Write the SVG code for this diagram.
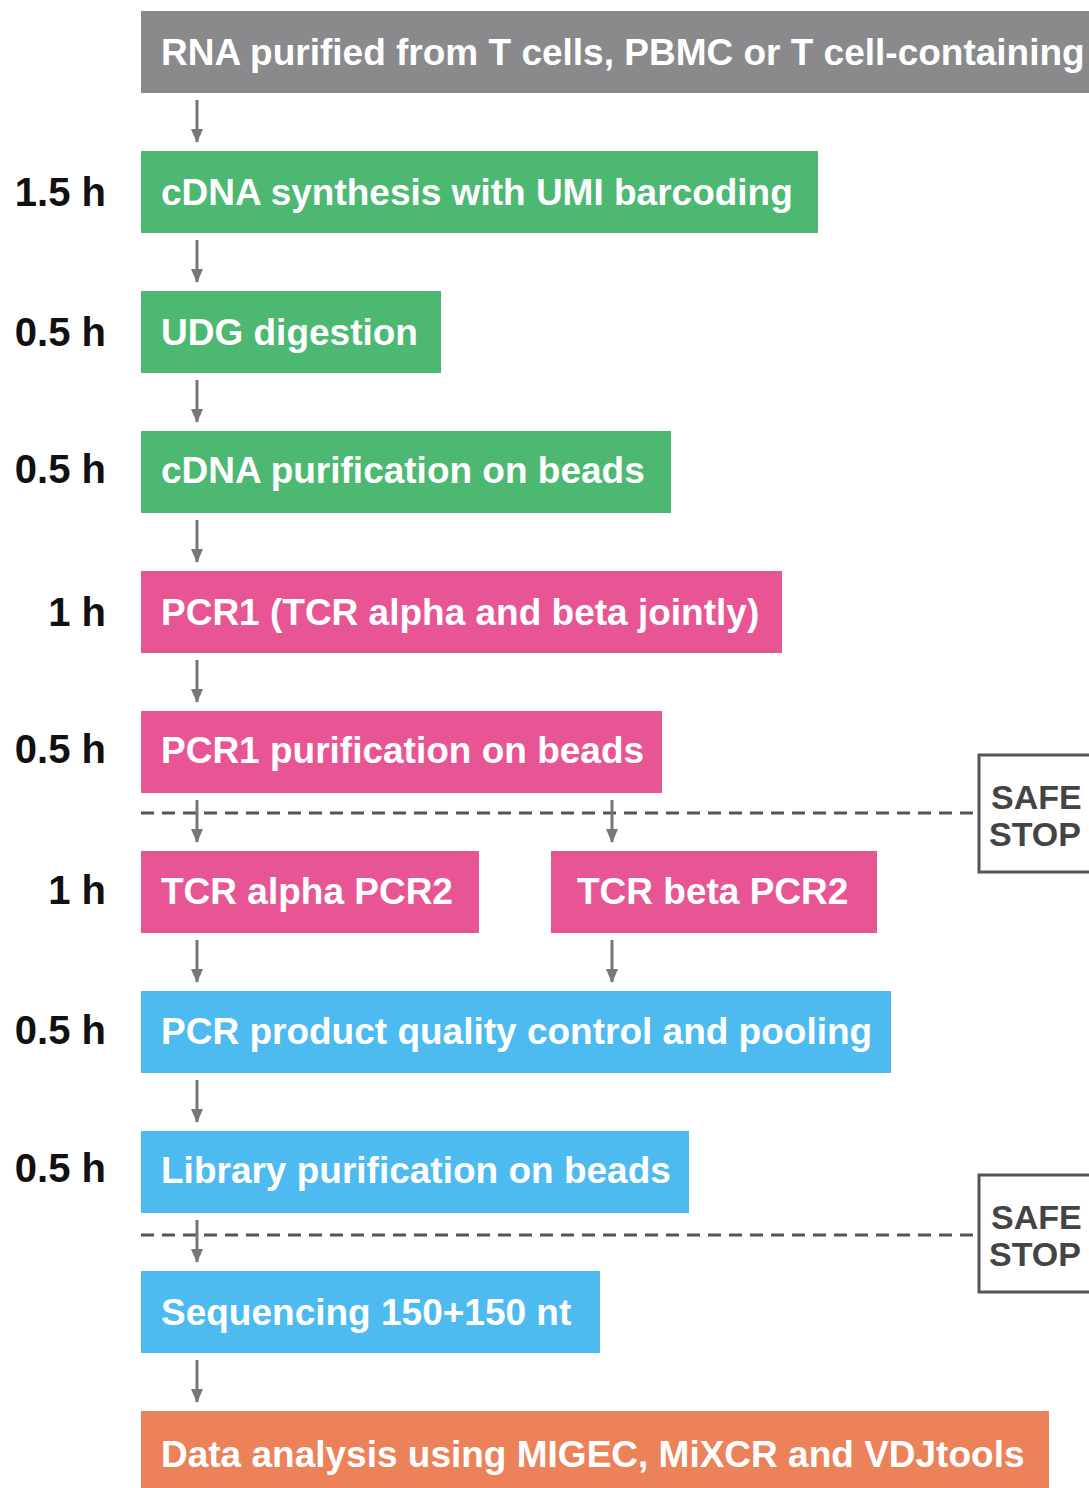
<svg xmlns="http://www.w3.org/2000/svg" width="1089" height="1488" viewBox="0 0 1089 1488">
<style>
.t{font-family:"Liberation Sans",Arial,sans-serif;font-weight:bold;font-size:37px;fill:#fff}
.h{font-family:"Liberation Sans",Arial,sans-serif;font-weight:bold;font-size:40px;fill:#111;text-anchor:end}
.ss{font-family:"Liberation Sans",Arial,sans-serif;font-weight:bold;font-size:34px;fill:#444}
.a{stroke:#777;stroke-width:3;fill:none}
.d{stroke:#555;stroke-width:3;stroke-dasharray:13 8;fill:none}
.box{fill:none;stroke:#555;stroke-width:3}
</style>
<defs>
<marker id="ah" markerWidth="14" markerHeight="12" refX="13" refY="6" orient="auto" markerUnits="userSpaceOnUse" viewBox="0 0 14 12">
<path d="M0,0 L14,6 L0,12 Z" fill="#777"/>
</marker>
</defs>
<rect width="1089" height="1488" fill="#fff"/>
<g id="labels">
<text class="h" x="106" y="206">1.5 h</text>
<text class="h" x="106" y="346">0.5 h</text>
<text class="h" x="106" y="483">0.5 h</text>
<text class="h" x="106" y="626">1 h</text>
<text class="h" x="106" y="763">0.5 h</text>
<text class="h" x="106" y="904">1 h</text>
<text class="h" x="106" y="1044">0.5 h</text>
<text class="h" x="106" y="1182">0.5 h</text>
</g>
<g id="n0"><rect x="141" y="11" width="948" height="82" fill="#8a8a8c"/><text class="t" x="161" y="65">RNA purified from T cells, PBMC or T cell-containing</text></g>
<g id="n1"><rect x="141" y="151" width="677" height="82" fill="#4db872"/><text class="t" x="161" y="205">cDNA synthesis with UMI barcoding</text></g>
<g id="n2"><rect x="141" y="291" width="300" height="82" fill="#4db872"/><text class="t" x="161" y="345">UDG digestion</text></g>
<g id="n3"><rect x="141" y="431" width="530" height="82" fill="#4db872"/><text class="t" x="161" y="483">cDNA purification on beads</text></g>
<g id="n4"><rect x="141" y="571" width="641" height="82" fill="#e85594"/><text class="t" x="161" y="625">PCR1 (TCR alpha and beta jointly)</text></g>
<g id="n5"><rect x="141" y="711" width="521" height="82" fill="#e85594"/><text class="t" x="161" y="763">PCR1 purification on beads</text></g>
<g id="n6"><rect x="141" y="851" width="338" height="82" fill="#e85594"/><text class="t" x="161" y="904">TCR alpha PCR2</text></g>
<g id="n7"><rect x="551" y="851" width="326" height="82" fill="#e85594"/><text class="t" x="577" y="904">TCR beta PCR2</text></g>
<g id="n8"><rect x="141" y="991" width="750" height="82" fill="#4dbbef"/><text class="t" x="161" y="1044">PCR product quality control and pooling</text></g>
<g id="n9"><rect x="141" y="1131" width="548" height="82" fill="#4dbbef"/><text class="t" x="161" y="1183">Library purification on beads</text></g>
<g id="n10"><rect x="141" y="1271" width="459" height="82" fill="#4dbbef"/><text class="t" x="161" y="1325">Sequencing 150+150 nt</text></g>
<g id="n11"><rect x="141" y="1411" width="908" height="80" fill="#ec8259"/><text class="t" x="161" y="1467">Data analysis using MIGEC, MiXCR and VDJtools</text></g>
<g id="stop1"><rect x="979" y="755" width="120" height="117" class="box"/><text class="ss" x="991" y="809">SAFE</text><text class="ss" x="989" y="846">STOP</text></g>
<g id="stop2"><rect x="979" y="1175" width="120" height="117" class="box"/><text class="ss" x="991" y="1229">SAFE</text><text class="ss" x="989" y="1266">STOP</text></g>
<g id="connectors">
<line class="d" x1="141" y1="813" x2="978" y2="813"/>
<line class="d" x1="141" y1="1235" x2="978" y2="1235"/>
<line class="a" x1="197" y1="100" x2="197" y2="142" marker-end="url(#ah)"/>
<line class="a" x1="197" y1="240" x2="197" y2="282" marker-end="url(#ah)"/>
<line class="a" x1="197" y1="380" x2="197" y2="422" marker-end="url(#ah)"/>
<line class="a" x1="197" y1="520" x2="197" y2="562" marker-end="url(#ah)"/>
<line class="a" x1="197" y1="660" x2="197" y2="702" marker-end="url(#ah)"/>
<line class="a" x1="197" y1="800" x2="197" y2="842" marker-end="url(#ah)"/>
<line class="a" x1="612" y1="800" x2="612" y2="842" marker-end="url(#ah)"/>
<line class="a" x1="197" y1="940" x2="197" y2="982" marker-end="url(#ah)"/>
<line class="a" x1="612" y1="940" x2="612" y2="982" marker-end="url(#ah)"/>
<line class="a" x1="197" y1="1080" x2="197" y2="1122" marker-end="url(#ah)"/>
<line class="a" x1="197" y1="1220" x2="197" y2="1262" marker-end="url(#ah)"/>
<line class="a" x1="197" y1="1360" x2="197" y2="1402" marker-end="url(#ah)"/>
</g>
</svg>
